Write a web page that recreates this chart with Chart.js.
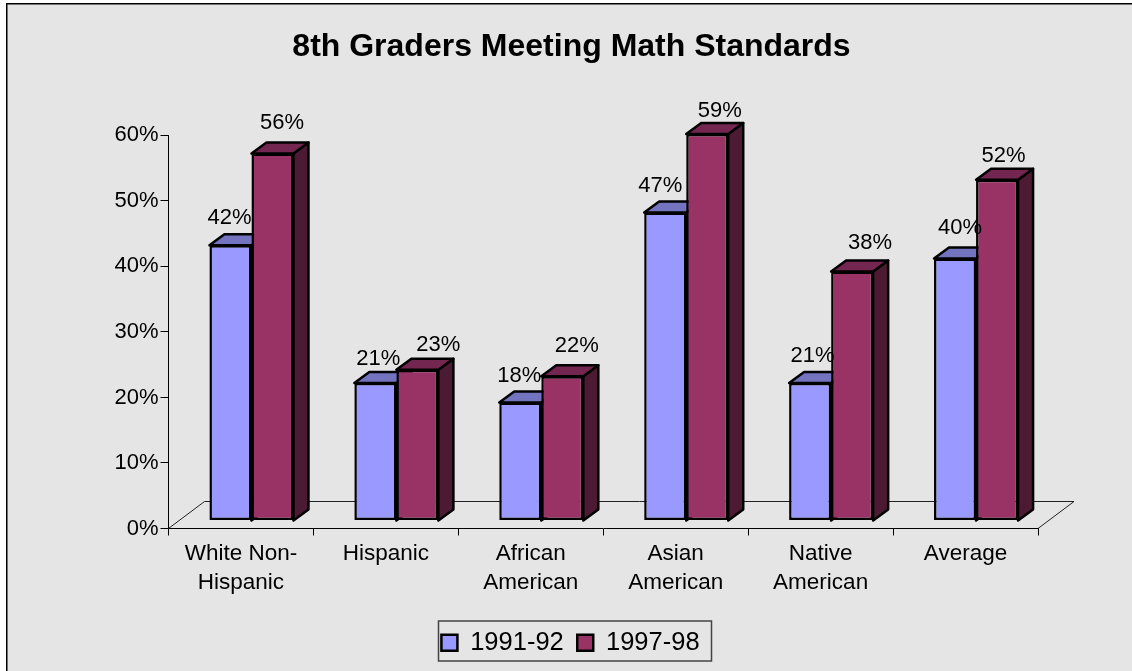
<!DOCTYPE html>
<html>
<head>
<meta charset="utf-8">
<title>8th Graders Meeting Math Standards</title>
<script src="https://cdn.jsdelivr.net/npm/chart.js@4"></script>
<style>
    html, body { margin: 0; padding: 0; background: #ffffff; }
    canvas { display: block; }
</style>
</head>
<body>
<canvas id="math_chart" width="1132" height="671"></canvas>
<script>
const categories = [["White Non-", "Hispanic"], "Hispanic", ["African", "American"], ["Asian", "American"], ["Native", "American"], "Average"];
const series_names = ["1991-92", "1997-98"];
const values_1991 = [42, 21, 18, 47, 21, 40];
const values_1997 = [56, 23, 22, 59, 38, 52];

// where excel put each value label, relative to the top middle of the bar
const label_shift_1991 = [[-1, -27], [3, -24], [-1, -27], [-5, -27], [2.5, -27], [5, -30]];
const label_shift_1997 = [[9.5, -31], [21, -25], [14.5, -30], [12.5, -23], [18, -29], [6.5, -24]];

const font_family = "'Liberation Sans', Arial, sans-serif";
const face_colors = [
    { top: "#7373bf", side: "#4d4d80" },
    { top: "#732650", side: "#4d1a33" }
];
// bars stand part way into the floor, the floor goes back 36,27
const bar_front = { x: 10.5, y: -8 };
const bar_depth = { x: 15, y: -11 };
const floor_depth = { x: 36, y: -27 };

function draw_face(ctx, points, fill) {
    ctx.beginPath();
    ctx.moveTo(points[0][0], points[0][1]);
    for (let i = 1; i < points.length; i++) {
        ctx.lineTo(points[i][0], points[i][1]);
    }
    ctx.closePath();
    ctx.fillStyle = fill;
    ctx.fill();
    ctx.lineWidth = 2.5;
    ctx.lineJoin = "round";
    ctx.strokeStyle = "#000000";
    ctx.stroke();
}

const background_plugin = {
    id: "background_plugin",
    beforeDraw(chart) {
        const ctx = chart.ctx;
        ctx.save();
        ctx.fillStyle = "#e5e5e5";
        ctx.fillRect(6, 3, chart.width - 6, chart.height - 3);
        ctx.fillStyle = "#000000";
        ctx.fillRect(6, 3, chart.width - 6, 1.5);
        ctx.fillRect(6, 3, 1.5, chart.height - 3);
        ctx.restore();
    }
};

const floor_plugin = {
    id: "floor_plugin",
    beforeDatasetsDraw(chart) {
        const ctx = chart.ctx;
        const left = chart.chartArea.left;
        const right = chart.chartArea.right;
        const base = chart.scales.y.getPixelForValue(0);
        ctx.save();
        ctx.strokeStyle = "#222222";
        ctx.lineWidth = 1;
        ctx.beginPath();
        ctx.moveTo(left, base);
        ctx.lineTo(left + floor_depth.x, base + floor_depth.y);
        ctx.lineTo(right + floor_depth.x, base + floor_depth.y);
        ctx.lineTo(right, base);
        ctx.stroke();
        ctx.restore();
    }
};

// chart.js paints the last dataset first, here the right bar has to go on top
// of the left one, so the plugin paints them itself from first to last
const bars_3d_plugin = {
    id: "bars_3d_plugin",
    beforeDatasetsDraw(chart) {
        const ctx = chart.ctx;
        const base = chart.scales.y.getPixelForValue(0);
        chart.getSortedVisibleDatasetMetas().forEach((meta) => {
            const colors = face_colors[meta.index];
            ctx.save();
            ctx.translate(bar_front.x, bar_front.y);
            meta.data.forEach((bar) => {
                const half = bar.width / 2;
                const l = bar.x - half;
                const r = bar.x + half;
                draw_face(ctx, [[r, bar.y], [r + bar_depth.x, bar.y + bar_depth.y], [r + bar_depth.x, base + bar_depth.y], [r, base]], colors.side);
                draw_face(ctx, [[l, bar.y], [l + bar_depth.x, bar.y + bar_depth.y], [r + bar_depth.x, bar.y + bar_depth.y], [r, bar.y]], colors.top);
            });
            meta.controller.draw();
            ctx.restore();
        });
    },
    beforeDatasetDraw() {
        return false;
    }
};

const value_label_plugin = {
    id: "value_label_plugin",
    afterDatasetsDraw(chart) {
        const ctx = chart.ctx;
        const shifts = [label_shift_1991, label_shift_1997];
        ctx.save();
        ctx.font = "22px " + font_family;
        ctx.fillStyle = "#000000";
        ctx.textAlign = "center";
        ctx.textBaseline = "middle";
        chart.data.datasets.forEach((dataset, d) => {
            chart.getDatasetMeta(d).data.forEach((bar, i) => {
                const x = bar.x + bar_front.x + shifts[d][i][0];
                const y = bar.y + bar_front.y + shifts[d][i][1];
                ctx.fillText(dataset.data[i] + "%", x, y);
            });
        });
        ctx.restore();
    }
};

const legend_shift = -1;
const legend_frame_plugin = {
    id: "legend_frame_plugin",
    afterLayout(chart) {
        chart.legend.left += legend_shift;
        chart.legend.right += legend_shift;
    },
    afterDraw(chart) {
        const ctx = chart.ctx;
        ctx.save();
        ctx.strokeStyle = "#444444";
        ctx.lineWidth = 1.5;
        ctx.strokeRect(438.5, 621, 273, 40);
        ctx.restore();
    }
};

new Chart(document.getElementById("math_chart"), {
    type: "bar",
    data: {
        labels: categories,
        datasets: [
            {
                label: series_names[0],
                data: values_1991,
                backgroundColor: "#9999ff",
                borderColor: "#000000",
                borderWidth: 2.5,
                borderSkipped: false,
                clip: false
            },
            {
                label: series_names[1],
                data: values_1997,
                backgroundColor: "#993366",
                borderColor: "#000000",
                borderWidth: 2.5,
                borderSkipped: false,
                clip: false
            }
        ]
    },
    options: {
        responsive: false,
        animation: false,
        barPercentage: 1,
        categoryPercentage: 0.58,
        layout: {
            padding: { left: 105, right: 94, top: 0, bottom: 5.5 }
        },
        scales: {
            x: {
                afterFit(scale) {
                    scale.height = 88;
                },
                grid: {
                    offset: true,
                    drawOnChartArea: false,
                    color: "#000000",
                    tickLength: 7
                },
                border: { color: "#000000", width: 1 },
                ticks: {
                    color: "#000000",
                    padding: 3,
                    maxRotation: 0,
                    autoSkip: false,
                    font: { family: font_family, size: 22.5, lineHeight: 1.32 }
                }
            },
            y: {
                min: 0,
                max: 60,
                afterFit(scale) {
                    scale.width = 63.5;
                },
                grid: {
                    drawOnChartArea: false,
                    color: "#000000",
                    tickLength: 8
                },
                border: { color: "#000000", width: 1 },
                ticks: {
                    stepSize: 10,
                    color: "#000000",
                    padding: 2,
                    font: { family: font_family, size: 22 },
                    callback: (value) => value + "%"
                }
            }
        },
        plugins: {
            title: {
                display: true,
                text: "8th Graders Meeting Math Standards",
                color: "#000000",
                font: { family: font_family, size: 32, weight: "bold" },
                padding: { top: 28, bottom: 69 }
            },
            legend: {
                position: "bottom",
                labels: {
                    color: "#000000",
                    boxWidth: 16,
                    boxHeight: 16,
                    padding: 13.5,
                    font: { family: font_family, size: 25.5 }
                }
            },
            tooltip: { enabled: false }
        }
    },
    plugins: [background_plugin, floor_plugin, bars_3d_plugin, value_label_plugin, legend_frame_plugin]
});
</script>
</body>
</html>
